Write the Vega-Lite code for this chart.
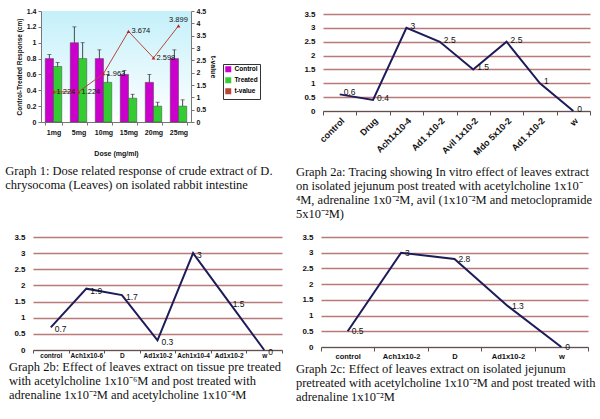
{
  "$schema": "https://vega.github.io/schema/vega-lite/v6.json",
  "background": "white",
  "padding": {"left": 5, "top": 7, "right": 0, "bottom": 0},
  "datasets": {
    "g1bars": [
      {"dose": "1mg", "group": "Control", "value": 0.8, "hi": 0.85},
      {"dose": "1mg", "group": "Treated", "value": 0.7, "hi": 0.75},
      {"dose": "5mg", "group": "Control", "value": 1.0, "hi": 1.2},
      {"dose": "5mg", "group": "Treated", "value": 0.8, "hi": 1.0},
      {"dose": "10mg", "group": "Control", "value": 0.8, "hi": 0.91},
      {"dose": "10mg", "group": "Treated", "value": 0.5, "hi": 0.6},
      {"dose": "15mg", "group": "Control", "value": 0.6, "hi": 0.65},
      {"dose": "15mg", "group": "Treated", "value": 0.3, "hi": 0.35},
      {"dose": "20mg", "group": "Control", "value": 0.5, "hi": 0.6},
      {"dose": "20mg", "group": "Treated", "value": 0.2, "hi": 0.25},
      {"dose": "25mg", "group": "Control", "value": 0.8, "hi": 0.91},
      {"dose": "25mg", "group": "Treated", "value": 0.2, "hi": 0.28}
    ],
    "g1t": [
      {"dose": "1mg", "series": "t-value", "t": 1.224},
      {"dose": "5mg", "series": "t-value", "t": 1.224},
      {"dose": "10mg", "series": "t-value", "t": 1.963},
      {"dose": "15mg", "series": "t-value", "t": 3.674},
      {"dose": "20mg", "series": "t-value", "t": 2.598},
      {"dose": "25mg", "series": "t-value", "t": 3.899}
    ],
    "g2a": [
      {"cat": "control", "v": 0.6},
      {"cat": "Drug", "v": 0.4},
      {"cat": "Ach1x10-4", "v": 3},
      {"cat": "Ad1 x10-2", "v": 2.5},
      {"cat": "Avil 1x10-2", "v": 1.5},
      {"cat": "Mdo 5x10-2", "v": 2.5},
      {"cat": "Ad1 x10-2 ", "v": 1},
      {"cat": "w", "v": 0}
    ],
    "g2b": [
      {"cat": "control", "v": 0.7},
      {"cat": "Ach1x10-6", "v": 1.9},
      {"cat": "D", "v": 1.7},
      {"cat": "Ad1x10-2", "v": 0.3},
      {"cat": "Ach1x10-4", "v": 3},
      {"cat": "Ad1x10-2 ", "v": 1.5},
      {"cat": "w", "v": 0}
    ],
    "g2c": [
      {"cat": "control", "v": 0.5},
      {"cat": "Ach1x10-2", "v": 3},
      {"cat": "D", "v": 2.8},
      {"cat": "Ad1x10-2", "v": 1.3},
      {"cat": "w", "v": 0}
    ]
  },
  "config": {
    "font": "Liberation Sans",
    "view": {"stroke": null},
    "title": {"font": "Liberation Serif", "fontSize": 12.5, "fontWeight": "normal", "color": "#111", "anchor": "start", "orient": "bottom", "frame": "bounds", "lineHeight": 14},
    "axis": {"labelFont": "Liberation Sans", "labelFontWeight": "bold", "labelColor": "#111", "titleFont": "Liberation Sans", "titleColor": "#111", "domainColor": "#777", "tickColor": "#777"}
  },
  "spacing": 12,
  "columns": 1,
  "align": "none",
  "concat": [
    {
      "spacing": 22,
      "hconcat": [
        {
          "width": 150,
          "height": 111,
          "view": {"fill": {"gradient": "linear", "x1": 0, "y1": 0, "x2": 0, "y2": 1, "stops": [{"offset": 0, "color": "#c4f0fa"}, {"offset": 1, "color": "#ffffff"}]}},
          "title": {"text": ["Graph 1: Dose related response of crude extract of D.", "chrysocoma (Leaves) on isolated rabbit intestine"], "offset": 9, "dx": -11},
          "resolve": {"scale": {"y": "independent"}},
          "layer": [
            {
              "data": {"name": "g1bars"},
              "layer": [
                {
                  "mark": {"type": "bar", "stroke": "#444", "strokeWidth": 0.5},
                  "encoding": {
                    "x": {"field": "dose", "type": "nominal", "sort": null, "scale": {"paddingInner": 0.34, "paddingOuter": 0.17}, "axis": {"title": "Dose (mg/ml)", "labelAngle": 0, "labelFontSize": 7, "titleFontSize": 7, "titleFontWeight": "bold", "titlePadding": 14, "tickBand": "extent", "tickSize": 3, "labelPadding": 3}},
                    "xOffset": {"field": "group", "type": "nominal", "sort": ["Control", "Treated"]},
                    "y": {"field": "value", "type": "quantitative", "scale": {"domain": [0, 1.4], "nice": false}, "axis": {"title": "Control-Treated Response (cm)", "tickCount": 7, "format": "~g", "labelFontSize": 7, "titleFontSize": 6.5, "titleFontWeight": "bold", "tickSize": 3, "grid": false, "titlePadding": 4}},
                    "color": {"field": "group", "type": "nominal", "scale": {"domain": ["Control", "Treated", "t-value"], "range": ["#cc00cc", "#33cc33", "#b5473a"]}, "legend": {"title": null, "orient": "none", "legendX": 182, "legendY": 53, "strokeColor": "#333", "padding": 2, "labelFontSize": 6.5, "labelFontWeight": "bold", "symbolType": "square", "symbolSize": 20, "rowPadding": 0, "labelOffset": 3, "fillColor": "white"}}
                  }
                },
                {
                  "mark": {"type": "rule", "color": "#222", "strokeWidth": 0.8},
                  "encoding": {
                    "x": {"field": "dose", "type": "nominal", "sort": null},
                    "xOffset": {"field": "group", "type": "nominal", "sort": ["Control", "Treated"]},
                    "y": {"field": "value", "type": "quantitative"},
                    "y2": {"field": "hi"}
                  }
                },
                {
                  "mark": {"type": "tick", "color": "#222", "size": 4, "thickness": 0.8},
                  "encoding": {
                    "x": {"field": "dose", "type": "nominal", "sort": null},
                    "xOffset": {"field": "group", "type": "nominal", "sort": ["Control", "Treated"]},
                    "y": {"field": "hi", "type": "quantitative"}
                  }
                }
              ]
            },
            {
              "data": {"name": "g1t"},
              "layer": [
                {
                  "mark": {"type": "line", "color": "#c0604a", "strokeWidth": 1},
                  "encoding": {
                    "x": {"field": "dose", "type": "nominal", "sort": null},
                    "y": {"field": "t", "type": "quantitative", "scale": {"domain": [0, 4.5], "nice": false}, "axis": {"orient": "right", "title": "t-value", "tickCount": 9, "format": "~g", "labelFontSize": 7, "titleFontSize": 7, "titleFontWeight": "bold", "tickSize": 3, "grid": false}},
                    "color": {"field": "series", "type": "nominal"}
                  }
                },
                {
                  "mark": {"type": "point", "shape": "triangle-up", "filled": true, "size": 14, "color": "#c02020", "opacity": 1},
                  "encoding": {
                    "x": {"field": "dose", "type": "nominal", "sort": null},
                    "y": {"field": "t", "type": "quantitative"}
                  }
                },
                {
                  "transform": [{"filter": "datum.dose != '25mg'"}],
                  "mark": {"type": "text", "align": "left", "dx": 3, "fontSize": 7.5, "font": "Liberation Sans", "color": "#111"},
                  "encoding": {
                    "x": {"field": "dose", "type": "nominal", "sort": null},
                    "y": {"field": "t", "type": "quantitative"},
                    "text": {"field": "t", "type": "quantitative", "format": ".3f"}
                  }
                },
                {
                  "transform": [{"filter": "datum.dose == '25mg'"}],
                  "mark": {"type": "text", "align": "center", "dy": -6, "fontSize": 7.5, "font": "Liberation Sans", "color": "#111"},
                  "encoding": {
                    "x": {"field": "dose", "type": "nominal", "sort": null},
                    "y": {"field": "t", "type": "quantitative"},
                    "text": {"field": "t", "type": "quantitative", "format": ".3f"}
                  }
                }
              ]
            }
          ]
        },
        {
          "width": 267,
          "height": 100,
          "data": {"name": "g2a"},
          "title": {"text": ["Graph 2a: Tracing showing In vitro effect of leaves extract", "on isolated jejunum post treated with acetylcholine 1x10⁻", "⁴M, adrenaline 1x0⁻²M, avil (1x10⁻²M and metoclopramide", "5x10⁻²M)"], "offset": 9, "dx": -8},
          "layer": [
            {
              "mark": {"type": "line", "color": "#1c1c5a", "strokeWidth": 2},
              "encoding": {
                "x": {"field": "cat", "type": "nominal", "sort": null, "scale": {"type": "band", "paddingInner": 0, "paddingOuter": 0}, "axis": {"title": null, "labelAngle": -45, "labelFontSize": 9, "tickBand": "extent", "tickSize": 4, "domainColor": "#555", "tickColor": "#555", "labelPadding": 1}},
                "y": {"field": "v", "type": "quantitative", "scale": {"domain": [0, 3.61], "nice": false}, "axis": {"title": null, "tickCount": 8, "format": "~g", "labelFontSize": 8, "domain": false, "ticks": false, "labelPadding": 8, "gridColor": "#b06a6a", "gridWidth": 1.5, "gridOpacity": 0.9}}
              }
            },
            {
              "mark": {"type": "text", "align": "left", "dx": 4, "dy": -2, "fontSize": 8.5, "color": "#111"},
              "encoding": {
                "x": {"field": "cat", "type": "nominal", "sort": null},
                "y": {"field": "v", "type": "quantitative"},
                "text": {"field": "v", "type": "quantitative", "format": "~g"}
              }
            }
          ]
        }
      ]
    },
    {
      "spacing": 5,
      "hconcat": [
        {
          "width": 241,
          "height": 113,
          "data": {"name": "g2b"},
          "title": {"text": ["Graph 2b: Effect of leaves extract on tissue pre treated", "with acetylcholine 1x10⁻⁶M and post treated with", "adrenaline 1x10⁻²M and acetylcholine 1x10⁻⁴M"], "offset": 2, "dx": -5},
          "layer": [
            {
              "mark": {"type": "line", "color": "#1c1c5a", "strokeWidth": 2},
              "encoding": {
                "x": {"field": "cat", "type": "nominal", "sort": null, "scale": {"type": "band", "paddingInner": 0, "paddingOuter": 0, "range": [-8, 241]}, "axis": {"title": null, "labelAngle": 0, "labelFontSize": 6.5, "tickBand": "extent", "tickSize": 3, "domainColor": "#555", "tickColor": "#555", "labelPadding": -1}},
                "y": {"field": "v", "type": "quantitative", "scale": {"domain": [0, 3.5], "nice": false}, "axis": {"title": null, "tickCount": 8, "format": "~g", "labelFontSize": 8, "domain": false, "ticks": false, "labelPadding": 8, "offset": 8, "gridColor": "#b06a6a", "gridWidth": 1.5, "gridOpacity": 0.9}}
              }
            },
            {
              "mark": {"type": "text", "align": "left", "dx": 4, "dy": 2, "fontSize": 8.5, "color": "#111"},
              "encoding": {
                "x": {"field": "cat", "type": "nominal", "sort": null},
                "y": {"field": "v", "type": "quantitative"},
                "text": {"field": "v", "type": "quantitative", "format": "~g"}
              }
            }
          ]
        },
        {
          "width": 267,
          "height": 110,
          "data": {"name": "g2c"},
          "title": {"text": ["Graph 2c: Effect of leaves extract on isolated jejunum", "pretreated with acetylcholine 1x10⁻²M and post treated with", "adrenaline 1x10⁻²M"], "offset": 3, "dx": -6},
          "layer": [
            {
              "mark": {"type": "line", "color": "#1c1c5a", "strokeWidth": 2},
              "encoding": {
                "x": {"field": "cat", "type": "nominal", "sort": null, "scale": {"type": "band", "paddingInner": 0, "paddingOuter": 0}, "axis": {"title": null, "labelAngle": 0, "labelFontSize": 7.5, "tickBand": "extent", "tickSize": 4, "domainColor": "#555", "tickColor": "#555", "labelPadding": 1}},
                "y": {"field": "v", "type": "quantitative", "scale": {"domain": [0, 3.5], "nice": false}, "axis": {"title": null, "tickCount": 8, "format": "~g", "labelFontSize": 8, "domain": false, "ticks": false, "labelPadding": 8, "gridColor": "#b06a6a", "gridWidth": 1.5, "gridOpacity": 0.9}}
              }
            },
            {
              "mark": {"type": "text", "align": "left", "dx": 4, "dy": 0, "fontSize": 8.5, "color": "#111"},
              "encoding": {
                "x": {"field": "cat", "type": "nominal", "sort": null},
                "y": {"field": "v", "type": "quantitative"},
                "text": {"field": "v", "type": "quantitative", "format": "~g"}
              }
            }
          ]
        }
      ]
    }
  ]
}
